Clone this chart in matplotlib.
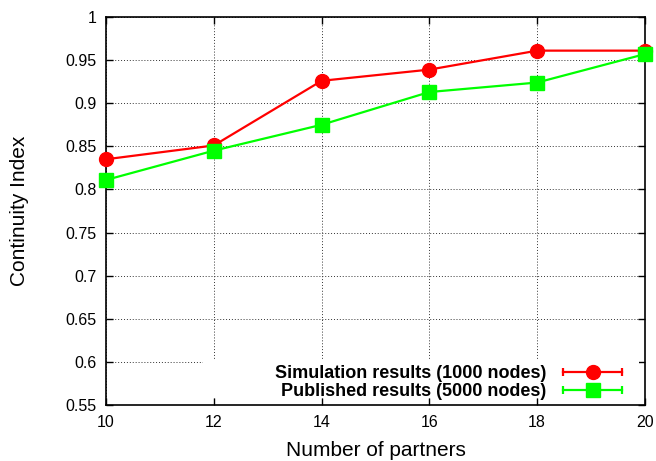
import matplotlib
matplotlib.use("Agg")
import matplotlib.pyplot as plt
from matplotlib.lines import Line2D
from matplotlib.patches import Rectangle
from matplotlib.legend_handler import HandlerLine2D

plt.rcParams['font.family'] = ['Liberation Sans', 'DejaVu Sans']

partners = [10, 12, 14, 16, 18, 20]
sim_1000 = [0.835, 0.851, 0.926, 0.939, 0.961, 0.961]
pub_5000 = [0.811, 0.845, 0.875, 0.913, 0.924, 0.957]
xticks = [10, 12, 14, 16, 18, 20]
yticks = [0.55, 0.6, 0.65, 0.7, 0.75, 0.8, 0.85, 0.9, 0.95, 1.0]
ytick_labels = ['0.55', '0.6', '0.65', '0.7', '0.75', '0.8', '0.85', '0.9', '0.95', '1']

RED = '#ff0000'
GREEN = '#00ff00'

fig = plt.figure(figsize=(6.56, 4.61), dpi=100)
ax = fig.add_axes([0.1616, 0.1215, 0.8216, 0.8416])

ax.plot(partners, sim_1000, color=RED, lw=1.6, marker='o', markersize=10, zorder=3, clip_on=False)
ax.plot(partners, pub_5000, color=GREEN, lw=1.6, marker='s', markersize=10, zorder=3, clip_on=False)

ax.set_xlim(10, 20)
ax.set_ylim(0.55, 1.0)
ax.set_xticks(xticks)
ax.set_xticklabels([str(x) for x in xticks])
ax.set_yticks(yticks)
ax.set_yticklabels(ytick_labels)
ax.tick_params(direction='in', top=True, right=True, length=5, width=1, labelsize=11.5, pad=7)
ax.grid(True, color='#333333', linestyle=(0, (1, 2)), linewidth=0.7)
ax.set_axisbelow(True)
for s in ax.spines.values():
    s.set_linewidth(1.2)

ax.set_xlabel('Number of partners', fontsize=15, labelpad=8)
ax.set_ylabel('Continuity Index', fontsize=15, labelpad=26)

# opaque key area hiding the grid
ax.add_patch(Rectangle((0.18, 0.02), 0.808, 0.096, transform=ax.transAxes,
                       facecolor='white', edgecolor='none', zorder=1))

cap_r = Line2D([], [], color=RED, lw=1.6, marker='|', markersize=6, markeredgewidth=1.6)
mk_r = Line2D([], [], color=RED, linestyle='none', marker='o', markersize=10)
cap_g = Line2D([], [], color=GREEN, lw=1.6, marker='|', markersize=6, markeredgewidth=1.6)
mk_g = Line2D([], [], color=GREEN, linestyle='none', marker='s', markersize=10)

leg = ax.legend([(cap_r, mk_r), (cap_g, mk_g)],
                ['Simulation results (1000 nodes)', 'Published results (5000 nodes)'],
                handler_map={cap_r: HandlerLine2D(numpoints=2), cap_g: HandlerLine2D(numpoints=2)},
                numpoints=1, markerfirst=False, loc='lower right',
                bbox_to_anchor=(0.968, 0.012), bbox_transform=ax.transAxes,
                prop={'weight': 'bold', 'size': 13}, frameon=False,
                handlelength=3.9, handletextpad=0.6, labelspacing=0.06,
                borderpad=0.0, borderaxespad=0.0)
leg.set_zorder(4)

fig.savefig('out.png', dpi=100)
